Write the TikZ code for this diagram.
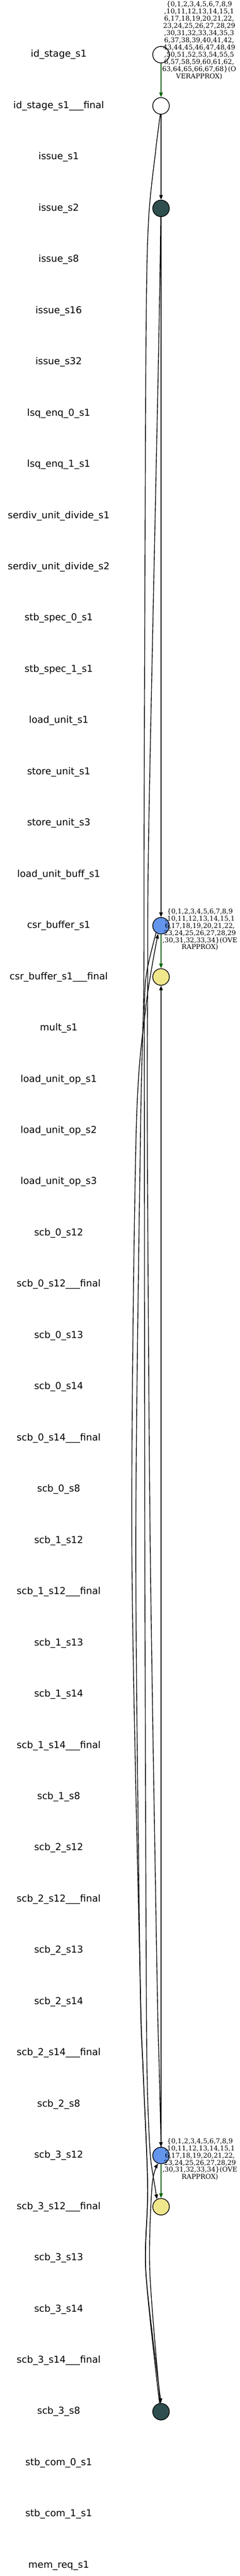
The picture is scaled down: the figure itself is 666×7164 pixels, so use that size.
\documentclass[tikz,border=0pt]{standalone}
\usepackage{fontspec}
\usetikzlibrary{arrows.meta}
\newfontfamily\lblfont{DejaVu Sans}
\newfontfamily\edgefont{DejaVu Serif}
\definecolor{dslate}{HTML}{2F4F4F}
\definecolor{cblue}{HTML}{6495ED}
\definecolor{khakiy}{HTML}{F0E68C}
\definecolor{dgreen}{HTML}{006400}
\tikzset{
  rowlabel/.style={font=\lblfont\fontsize{26.5}{30}\selectfont, anchor=center, inner sep=0pt},
  state/.style={circle, draw=black, line width=2pt, minimum size=46pt, inner sep=0pt},
  blkedge/.style={line width=2pt, draw=black, -{Triangle[length=13pt,width=10pt]}},
  grnedge/.style={line width=2pt, draw=dgreen, -{Triangle[length=13pt,width=10pt]}},
  elabel/.style={font=\edgefont\fontsize{18.5}{20}\selectfont, align=center, inner sep=0pt},
  smoothpath/.style={smooth, tension=0.5}
}
\begin{document}
\begin{tikzpicture}[x=1pt,y=-1pt]
\useasboundingbox (0,0) rectangle (666,7164);
\foreach \i/\t in {0/id\_stage\_s1, 1/id\_stage\_s1\_\_\_final, 2/issue\_s1, 3/issue\_s2, 4/issue\_s8,
  5/issue\_s16, 6/issue\_s32, 7/lsq\_enq\_0\_s1, 8/lsq\_enq\_1\_s1, 9/serdiv\_unit\_divide\_s1,
  10/serdiv\_unit\_divide\_s2, 11/stb\_spec\_0\_s1, 12/stb\_spec\_1\_s1, 13/load\_unit\_s1,
  14/store\_unit\_s1, 15/store\_unit\_s3, 16/load\_unit\_buff\_s1, 17/csr\_buffer\_s1,
  18/csr\_buffer\_s1\_\_\_final, 19/mult\_s1, 20/load\_unit\_op\_s1, 21/load\_unit\_op\_s2,
  22/load\_unit\_op\_s3, 23/scb\_0\_s12, 24/scb\_0\_s12\_\_\_final, 25/scb\_0\_s13, 26/scb\_0\_s14,
  27/scb\_0\_s14\_\_\_final, 28/scb\_0\_s8, 29/scb\_1\_s12, 30/scb\_1\_s12\_\_\_final, 31/scb\_1\_s13,
  32/scb\_1\_s14, 33/scb\_1\_s14\_\_\_final, 34/scb\_1\_s8, 35/scb\_2\_s12, 36/scb\_2\_s12\_\_\_final,
  37/scb\_2\_s13, 38/scb\_2\_s14, 39/scb\_2\_s14\_\_\_final, 40/scb\_2\_s8, 41/scb\_3\_s12,
  42/scb\_3\_s12\_\_\_final, 43/scb\_3\_s13, 44/scb\_3\_s14, 45/scb\_3\_s14\_\_\_final, 46/scb\_3\_s8,
  47/stb\_com\_0\_s1, 48/stb\_com\_1\_s1, 49/mem\_req\_s1}
  { \node[rowlabel] (r\i) at (163,{152+142.5*\i}) {\t}; }

% state nodes
\node[state, fill=white]  (A) at (447,152) {};
\node[state, fill=white]  (B) at (447,294.5) {};
\node[state, fill=dslate] (C) at (447,579.5) {};
\node[state, fill=cblue]  (D) at (447,2574.5) {};
\node[state, fill=khakiy] (E) at (447,2717) {};
\node[state, fill=cblue]  (F) at (447,5994.5) {};
\node[state, fill=khakiy] (G) at (447,6137) {};
\node[state, fill=dslate] (H) at (447,6707) {};

% straight edges
\draw[grnedge] (A) -- (B);
\draw[blkedge] (B) -- (C);
\draw[blkedge] (C) -- (D);
\draw[grnedge] (D) -- (E);
\draw[grnedge] (F) -- (G);
\draw[blkedge] (F.north) -- (E.south);

% long curved edges
\draw[blkedge] plot[smoothpath] coordinates {(B.265) (432,420) (412,620) (405,990) (400,2300) (399,2750) (390,3150) (377,4300) (389,5500) (397,5750) (410,6080) (405,6320) (H.north)};
\draw[blkedge] plot[smoothpath] coordinates {(H.100) (405,6320) (410,6080) (397,5750) (389,5500) (366,4300) (378,3150) (405,2800) (D.250)};
\draw[blkedge] plot[smoothpath] coordinates {(D.235) (408,2700) (401,2800) (401,3150) (402,4300) (406,5500) (409,5800) (417,5990) (430,6080) (G.118)};
\draw[blkedge] plot[smoothpath] coordinates {(C.268) (440,990) (413,2300) (410,2750) (409,3150) (417,4300) (436,5500) (442,5750) (F.north)};
\draw[blkedge] plot[smoothpath] coordinates {(H.95) (416,6320) (422,6080) (F.250)};

% edge labels
\node[elabel] (L1) at (553,113) {\{0,1,2,3,4,5,6,7,8,9\\,10,11,12,13,14,15,1\\6,17,18,19,20,21,22,\\23,24,25,26,27,28,29\\,30,31,32,33,34,35,3\\6,37,38,39,40,41,42,\\43,44,45,46,47,48,49\\,50,51,52,53,54,55,5\\6,57,58,59,60,61,62,\\63,64,65,66,67,68\}(O\\VERAPPROX)};
\node[elabel] (L2) at (555,2585) {\{0,1,2,3,4,5,6,7,8,9\\,10,11,12,13,14,15,1\\6,17,18,19,20,21,22,\\23,24,25,26,27,28,29\\,30,31,32,33,34\}(OVE\\RAPPROX)};
\node[elabel] (L3) at (555,6005) {\{0,1,2,3,4,5,6,7,8,9\\,10,11,12,13,14,15,1\\6,17,18,19,20,21,22,\\23,24,25,26,27,28,29\\,30,31,32,33,34\}(OVE\\RAPPROX)};
\end{tikzpicture}
\end{document}
